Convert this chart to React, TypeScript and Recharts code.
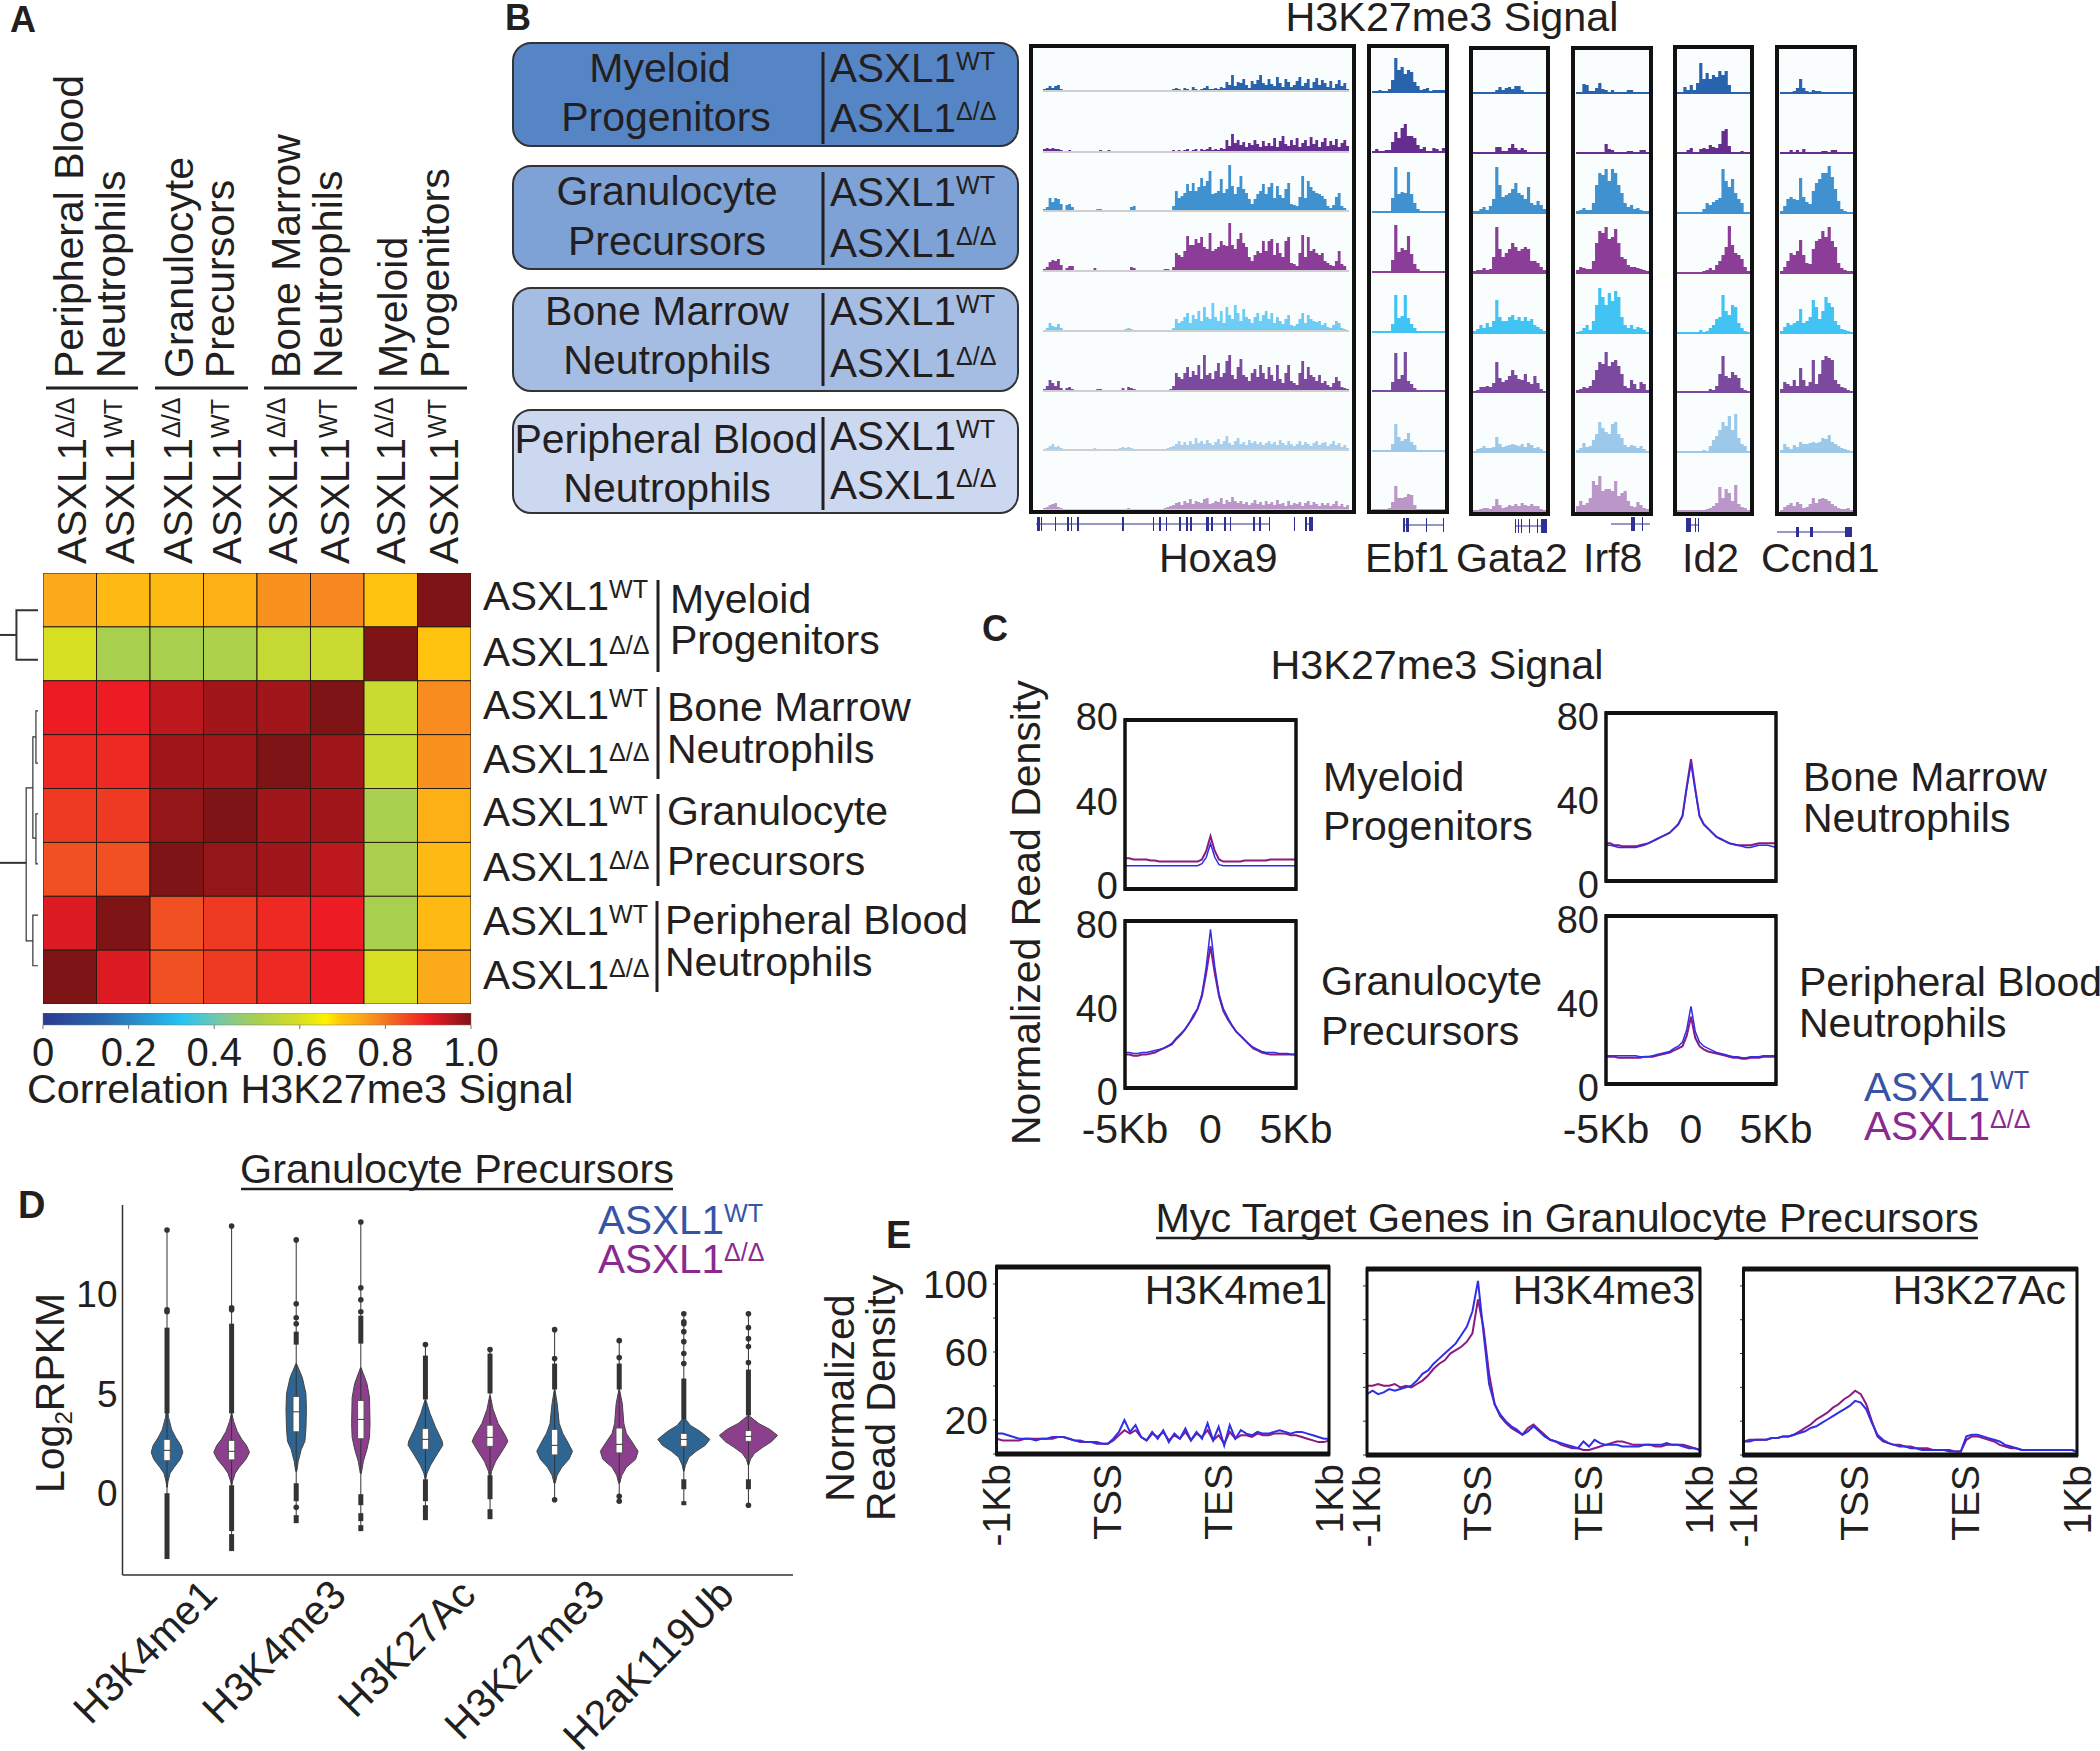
import {
  Area,
  AreaChart,
  Bar,
  BarChart,
  Cell,
  Line,
  LineChart,
  ReferenceLine,
  Scatter,
  ScatterChart,
  XAxis,
  YAxis,
} from "recharts";

const FONT = '"Liberation Sans", Arial, sans-serif';
const INK = "#231f20";
const LEGEND_BLUE = "#3953a4";
const LEGEND_PURPLE = "#8a2a8f";
const LINE_BLUE = "#2f2fe6";
const LINE_PURPLE = "#8a1a80";
const VIOLIN_BLUE = "#2f6592";
const VIOLIN_PURPLE = "#8c3f8d";

/* ---- panel A: correlation heatmap ---- */
const heatRows = [
  [0.74, 0.715, 0.715, 0.73, 0.77, 0.78, 0.7, 1],
  [0.6, 0.5, 0.5, 0.51, 0.56, 0.57, 1, 0.7],
  [0.9, 0.9, 0.945, 0.97, 0.97, 1, 0.57, 0.775],
  [0.885, 0.885, 0.97, 0.97, 1, 0.97, 0.57, 0.77],
  [0.865, 0.865, 0.98, 1, 0.97, 0.97, 0.5, 0.73],
  [0.84, 0.84, 1, 0.98, 0.97, 0.945, 0.505, 0.715],
  [0.915, 1, 0.84, 0.865, 0.885, 0.9, 0.5, 0.715],
  [1, 0.915, 0.84, 0.865, 0.885, 0.9, 0.6, 0.74],
];
const heatColumns = [0, 1, 2, 3, 4, 5, 6, 7];
const colorStops: [number, string][] = [
  [0, "#2b3990"],
  [0.15, "#2a6ab0"],
  [0.325, "#27c4f4"],
  [0.42, "#7ec8a0"],
  [0.5, "#a9cf4f"],
  [0.6, "#d7df23"],
  [0.66, "#fff200"],
  [0.7, "#ffc20e"],
  [0.74, "#fbaa19"],
  [0.78, "#f7881f"],
  [0.84, "#f15023"],
  [0.9, "#ed1c24"],
  [1, "#7f1416"],
];
const colorbarTicks = [0, 0.2, 0.4, 0.6, 0.8, 1];
const dendroBranches = [
  [[0, 1.15], [16, 1.15]],
  [[37, 0.69], [16, 0.69], [16, 1.61], [37, 1.61]],
  [[0, 5.38], [25.5, 5.38]],
  [[32, 3.99], [25.5, 3.99], [25.5, 6.83], [32, 6.83]],
  [[35, 3.04], [32, 3.04], [32, 4.92], [35, 4.92]],
  [[37, 2.56], [35, 2.56], [35, 3.53], [37, 3.53]],
  [[37, 4.47], [35, 4.47], [35, 5.4], [37, 5.4]],
  [[37, 6.35], [32, 6.35], [32, 7.29], [37, 7.29]],
];

/* ---- panel B: genome browser tracks, eight per gene ---- */
const trackColors = ["#2a63ad", "#662d91", "#3f91cf", "#8b3d97", "#41c4f4", "#7b4a9e", "#9cc9ea", "#bb96c8"];
const hoxa9Colors = ["#2a63ad", "#662d91", "#3f91cf", "#8b3d97", "#6dcdf5", "#7b4a9e", "#a9cfec", "#bb96c8"];
const hoxa9Tracks = [
  [2,3,5,3,5,6,2,0,0,0, 0,0,0,0,0,0,0,0,0,0, 0,0,0,0,0,0,0,0,0,0, 1,1,0,0,0,0,0,0,0,0, 0,0,0,0,0,0,2,3,2,1, 3,2,1,4,2,1,2,3,5,2, 2,3,2,4,3,9,6,16,5,9, 8,12,6,3,10,7,11,16,8,6, 12,7,5,14,8,4,12,9,4,6, 10,14,5,8,12,3,9,13,6,11, 8,4,10,3,7,11,5,8,2,0],
  [3,4,3,4,3,3,2,1,1,2, 1,1,0,0,0,1,1,0,0,1, 2,1,0,2,1,0,0,0,0,0, 1,1,0,0,0,0,0,0,0,0, 0,0,0,0,0,1,2,1,2,1, 2,3,1,2,3,1,3,2,3,5, 2,3,2,4,3,12,6,18,9,12, 7,10,5,9,7,12,8,5,11,6, 9,6,14,5,11,16,8,6,12,7, 14,5,9,12,6,15,8,12,5,10, 14,6,11,7,13,5,9,12,6,1],
  [2,4,13,9,13,12,7,0,6,7, 4,0,0,0,0,0,0,0,0,2, 2,0,0,0,0,0,0,0,0,0, 0,4,5,1,0,0,0,0,0,0, 0,0,0,0,0,0,5,20,13,15, 18,27,20,28,20,24,33,25,30,40, 17,18,20,32,18,22,46,25,17,24, 35,22,18,12,7,12,17,20,27,17, 24,28,13,25,16,13,22,28,7,6, 5,14,35,13,30,24,20,18,17,15, 12,5,3,6,14,18,5,3,1,0],
  [2,4,9,11,10,12,6,0,3,5, 5,1,0,0,0,0,0,0,3,1, 0,0,0,0,0,0,0,0,0,0, 0,4,3,0,0,0,0,0,0,0, 0,0,0,2,2,0,4,18,16,14, 20,35,26,26,32,28,34,24,22,38, 20,22,24,30,26,25,48,26,22,32, 38,28,24,14,10,16,20,18,30,20, 30,32,16,28,18,14,30,34,8,7, 5,18,36,14,34,20,22,18,16,18, 10,8,6,5,10,20,7,5,1,0],
  [1,3,8,5,4,7,3,1,0,1, 0,0,0,0,0,0,0,0,1,1, 1,0,0,0,1,0,0,1,1,2, 3,2,1,0,0,0,0,0,0,0, 0,0,0,0,1,1,3,12,8,10, 14,18,8,16,12,20,10,24,14,12, 28,14,10,20,8,24,16,12,26,18, 10,22,14,12,8,14,18,10,16,20, 12,18,8,14,10,7,12,16,6,5, 7,12,18,8,16,12,10,9,10,6, 8,4,3,6,10,8,3,2,1,0],
  [2,5,11,8,5,10,3,0,3,4, 2,0,0,0,0,0,0,0,1,2, 2,0,0,0,0,0,0,1,3,1, 4,3,2,0,0,0,0,0,0,0, 0,0,0,1,1,2,5,18,14,12, 18,24,14,20,16,26,12,36,16,18, 12,20,28,14,18,30,36,16,12,24, 32,16,14,10,18,22,14,26,18,12, 24,16,10,26,12,8,18,26,10,8, 6,18,30,12,24,16,14,10,16,8, 10,6,4,8,14,10,4,3,2,0],
  [1,2,4,6,3,4,2,1,1,0, 0,0,1,0,1,0,0,1,2,1, 1,0,1,0,0,1,0,2,3,2, 3,2,1,0,0,0,0,0,0,0, 0,0,0,1,2,3,4,6,9,5, 8,5,9,6,12,7,9,6,10,7, 5,8,11,6,9,14,7,5,9,12, 6,8,5,10,7,9,6,8,5,7, 9,6,8,5,10,7,5,9,6,4, 6,9,5,8,6,4,7,9,5,7, 8,4,6,9,5,7,3,5,2,0],
  [2,3,5,6,7,3,2,1,0,1, 0,0,0,0,0,0,0,0,0,0, 0,1,0,0,0,0,0,0,1,1, 2,1,0,0,0,0,0,0,1,1, 1,1,1,2,3,4,5,7,8,5, 9,7,11,6,9,8,7,11,12,6, 7,9,8,12,6,10,8,13,9,7, 9,6,8,5,7,10,6,8,5,9, 6,8,5,10,6,7,4,9,5,7, 6,8,4,7,9,5,8,6,4,7, 5,7,4,6,9,4,6,3,5,2],
];
const ebf1Tracks = [
  [0,0,2,1,1,3,12,34,22,25,18,22,20,10,6,2,3,4,1,2,2,2,2,2],
  [1,3,1,1,2,2,10,20,14,24,28,16,16,14,7,3,5,1,0,4,3,1,4,2],
  [0,0,0,0,0,0,14,45,18,20,19,40,18,9,3,0,0,0,0,0,0,0,0,0],
  [0,0,0,0,0,0,12,47,20,24,22,36,18,8,3,1,0,0,0,0,0,0,0,0],
  [0,0,0,0,0,0,8,37,14,16,37,14,8,4,1,0,0,0,0,0,0,0,0,0],
  [0,0,0,0,0,0,9,38,12,16,39,10,7,3,0,1,0,0,0,0,0,0,0,0],
  [0,0,1,0,0,0,7,27,14,10,12,18,9,6,1,1,1,0,1,0,0,1,0,0],
  [1,1,0,0,0,2,8,24,12,12,13,16,15,5,1,0,0,0,0,0,0,0,0,0],
];
const gata2Tracks = [
  [0,0,0,0,0,0,0,3,6,3,5,6,4,7,7,3,1,1,1,0,1,1,0,0],
  [1,1,0,1,0,1,1,6,6,2,2,5,9,5,3,5,3,1,0,0,1,1,1,1],
  [2,2,4,6,3,7,14,46,28,16,18,20,24,30,20,18,14,26,10,8,12,8,4,1],
  [2,3,3,5,3,4,16,46,24,16,20,24,30,26,22,24,26,24,12,12,10,6,3,1],
  [2,4,8,5,10,6,12,33,16,12,12,16,18,13,16,12,16,12,14,8,6,4,2,1],
  [1,2,5,5,6,5,9,30,14,10,12,16,22,17,13,12,18,10,8,16,9,3,1,0],
  [1,3,4,6,4,4,5,15,8,5,6,7,8,7,6,8,5,9,7,4,5,3,1,0],
  [0,0,2,3,3,2,5,12,6,3,4,6,5,7,5,8,6,5,7,5,5,2,0,0],
];
const irf8Tracks = [
  [0,0,9,8,2,2,5,10,4,3,0,3,1,0,0,0,3,3,0,0,0,0,0,2],
  [0,0,0,0,0,0,0,0,0,9,4,3,1,0,0,0,2,2,0,0,3,3,0,0],
  [2,3,5,3,3,10,28,40,38,44,32,44,40,28,20,10,6,8,4,5,3,2,2,3],
  [3,6,5,4,4,12,30,42,40,46,34,36,44,30,16,14,8,6,6,5,4,3,2,2],
  [1,2,5,8,3,12,28,45,36,28,40,32,42,36,16,8,5,8,4,6,5,3,1,5],
  [2,3,5,4,6,12,22,30,28,40,26,30,32,26,18,6,4,12,8,3,10,8,2,6],
  [2,4,9,5,6,12,18,30,24,20,18,28,30,18,14,7,5,7,6,4,6,3,1,3],
  [5,10,6,8,13,30,26,35,20,22,22,20,30,15,18,20,10,5,4,9,6,3,2,4],
];
const id2Tracks = [
  [0,1,6,3,8,3,10,30,14,20,14,18,16,22,18,22,8,1,1,1,1,1,0,1],
  [0,1,0,3,5,0,1,4,5,4,8,6,5,9,22,24,7,1,1,1,2,0,1,0],
  [0,0,0,0,0,0,0,1,4,10,8,11,13,15,44,32,26,34,20,14,10,1,0,0],
  [0,0,0,0,0,0,0,1,2,3,5,3,8,12,18,26,47,28,20,18,14,6,2,1],
  [0,0,0,0,0,1,0,3,1,2,5,8,14,16,38,22,18,28,26,10,5,2,1,3],
  [0,0,0,0,0,0,0,0,1,1,3,2,6,18,36,16,14,20,17,14,4,2,1,4],
  [0,0,0,0,0,0,0,1,2,1,6,12,16,22,30,26,36,22,38,14,8,6,1,0],
  [0,0,0,0,0,0,0,1,1,2,3,5,8,24,13,22,18,10,26,7,4,3,0,0],
];
const ccnd1Tracks = [
  [0,0,0,1,2,5,14,5,2,0,3,2,2,1,0,0,0,0,0,0,0,0,1,0],
  [0,0,1,3,1,3,1,4,1,1,1,0,1,2,2,1,3,3,0,0,0,0,0,0],
  [2,7,14,16,14,13,35,16,11,9,22,30,34,40,40,47,36,24,12,4,2,1,1,0],
  [2,6,12,20,18,22,33,18,10,9,24,32,34,42,36,46,32,26,10,5,3,2,2,2],
  [2,6,10,8,10,12,24,10,12,16,33,26,14,22,36,30,26,12,8,4,3,2,1,0],
  [3,10,8,6,12,6,24,12,6,10,32,8,18,32,36,34,32,12,8,5,4,2,1,1],
  [2,8,5,3,7,5,10,8,8,9,10,9,10,14,13,17,10,8,6,4,3,2,1,0],
  [1,4,6,8,5,9,7,3,4,7,13,8,12,13,12,10,7,5,3,2,2,3,1,0],
];

/* ---- panel C: read density around peaks, 41 bins from -5Kb to 5Kb ---- */
const profileMpWt = [11,11,11,11,11,11,11,11,11,11,11,11,11,11,11,11,11,11,12,15,21.5,15,11.5,11,11,11,11,11,11,11,11,11,11,11,11,11,11,11,11,11,11];
const profileMpKo = [14.5,14.5,14,14,14,14,13.5,13.5,13,13,13,13,13,13,13,13,13,13,14,18,25,18,14,13,13,13,13,13,13.5,13.5,13.5,13.5,13.5,13.5,14,14,14,14,14,14,14];
const profileBmWt = [17,17,16.5,16,16,16,16,16,16.5,17,18,19,20,21,22,23,25,27,31,44,56,43,31,27,25,23,21,20,19,18,17.5,17,16.5,16,16,16.5,17,17,17,16.5,16];
const profileBmKo = [18,18,17,17,16.5,16.5,16.5,16.5,17,17.5,18,19,20,21,22,23,25,27,31,45,58,44,31,27,25,23,21,20,19,18,17.5,17,17,17,17,17.5,18,18,18,18,18];
const profileGpWt = [17,17,16.5,16.5,17,17,17.5,18,18.5,19,20,21.5,24,26,28,31,35,38,45,58,76,58,45,38,34,30,27,25,23,21,19.5,18.5,17.5,17,17,17,16.5,16.5,16.5,16,16];
const profileGpKo = [16,16,15.5,15.5,16,16,16.5,17,18,19,20,21,23.5,25.5,28,31,34,38,44,55,68,55,44,37,33,30,27,25,23,21,19,18,17,16.5,16,16,16,16,16,16,16];
const profilePbWt = [13.5,13.5,13.5,13.5,13.5,13.5,13.5,13.5,13,13,13,13.5,14,14.5,15,15.5,17,18,20,26,37,25,20,18,17,16,15,14.5,14,13.5,13,13,12.5,12.5,13,13,13,13.5,13.5,13.5,13.5];
const profilePbKo = [13,13,13,12.5,12.5,12.5,12.5,12.5,12.5,13,13,13,13.5,14,14.5,15,16,17,18,23,32,22,18,16.5,15.5,15,14.5,14,13.5,13,12.5,12.5,12,12,12.5,12.5,12.5,13,13,13,13];
const profileTicks = [0, 20, 40];
const profileTickLabels = ["-5Kb", "0", "5Kb"];

/* ---- panel D: violins, log2 RPKM ---- */
const violinGroups = ["H3K4me1", "H3K4me3", "H3K27Ac", "H3K27me3", "H2aK119Ub"];
const violinGroupTicks = [0.5, 2.5, 4.5, 6.5, 8.5];
// [log2 RPKM, half width of the density]
const violinProfiles = [
  [[4.3,0.5],[3.8,3],[3.2,9],[2.8,17],[2.4,27],[2.05,31],[1.7,26],[1.3,14],[1,6],[0.6,2],[0.3,0.5]],
  [[4,0.5],[3.6,4],[3.1,11],[2.7,20],[2.4,29],[2.05,35],[1.7,28],[1.3,15],[1,7],[0.6,2],[0.4,0.5]],
  [[6.5,0.5],[5.8,12],[5,19],[4.2,20],[3.2,19],[2.6,17],[2.2,10],[1.6,4],[1.1,1]],
  [[6.3,0.5],[5.5,12],[4.8,17],[3.5,18],[2.8,17],[2.2,12],[1.6,5],[1,1]],
  [[4.7,0.5],[4,9],[3.3,20],[2.6,33],[2.4,34],[2,24],[1.4,10],[1,3],[0.7,0.5]],
  [[4.9,0.5],[4.2,6],[3.5,16],[2.9,30],[2.6,35],[2.2,26],[1.6,11],[1.1,3],[0.7,0.5]],
  [[5.2,0.5],[4.5,5],[3.5,9],[3,16],[2.5,27],[2.1,35],[1.7,28],[1.3,14],[0.9,5],[0.5,1]],
  [[5.2,0.5],[4.5,6],[3.5,9],[3,14],[2.5,27],[2.1,37],[1.7,32],[1.3,14],[0.9,5],[0.5,1]],
  [[3.8,0.5],[3.4,13],[3.1,32],[2.7,51],[2.4,42],[2.1,24],[1.8,10],[1.4,3],[1.1,0.5]],
  [[3.9,0.5],[3.5,20],[3.2,42],[2.9,57],[2.6,46],[2.3,28],[2,12],[1.7,4],[1.4,0.5]],
];
// [q1, median, q3]
const violinBoxes = [
  [1.63, 2.15, 2.7],
  [1.67, 2.1, 2.65],
  [3.08, 4.08, 4.85],
  [2.73, 3.7, 4.65],
  [2.2, 2.7, 3.24],
  [2.35, 2.8, 3.41],
  [1.92, 2.4, 3.2],
  [2.02, 2.45, 3.27],
  [2.35, 2.7, 3],
  [2.6, 2.85, 3.14],
];
// [min, max] of the thin whisker
const violinWhiskers = [
  [-3.3, 13.2], [-2.9, 13.4], [-1.5, 12.7], [-1.9, 13.6], [-1.35, 7.45],
  [-1.3, 7.2], [-0.33, 8.2], [-0.4, 7.65], [-0.6, 9], [-0.6, 9],
];
// runs of overlapping outliers, drawn as a thick stroke
const violinOutlierRuns = [
  [[4, 8.3], [-3.3, 0]],
  [[4, 8.5], [-1.9, 0.4], [-2.9, -2.05]],
  [[7.45, 8.1], [-0.4, 0.5], [-1.5, -1.1]],
  [[7.5, 8.9], [-0.6, -0.05], [-1.4, -1], [-1.9, -1.6]],
  [[4.7, 6.9], [-0.4, 0.7], [-1.35, -0.6]],
  [[5, 7], [-0.3, 0.9], [-1.3, -0.8]],
  [[5.2, 6.5]],
  [[5.2, 6.5]],
  [[3.7, 5.75], [0.2, 0.7], [-0.6, -0.4]],
  [[3.9, 6.2], [0.2, 0.7]],
];
const violinOutlierDots = [
  [13.2, 9.2, 9.1],
  [13.4, 9.3, 9.2],
  [12.7, 9.5, 8.8, 8.5, -0.7],
  [13.6, 10.3, 9.7, 9.1],
  [7.45],
  [7.2],
  [8.2, 6.75, -0.33],
  [7.65, 6.8, -0.15, -0.4],
  [9, 8.6, 8.5, 8.1, 7.6, 7, 6.5],
  [9, 8.3, 7.75, 7.35, 6.55, -0.6],
];

/* ---- panel E: metagene profiles, 61 bins from -1Kb to 1Kb past the gene body ---- */
const metaH3k4me1Wt = [12,12,11,10,9,9,9,8,9,9,10,10,10,9,8,8,7,7,7,6,6,9,13,20,13,17,10,8,13,9,14,7,12,9,15,8,13,9,18,8,16,5,17,9,14,12,11,13,12,12,13,14,13,12,13,13,12,11,10,9,9];
const metaH3k4me1Ko = [9,8,8,8,8,9,9,9,9,9,9,10,10,9,8,7,7,7,6,6,6,8,11,14,12,14,10,8,12,10,13,8,11,9,13,8,12,10,14,8,11,6,13,9,11,11,10,12,11,11,12,12,12,11,11,10,9,8,7,7,8];
const metaH3k4me3Wt = [36,38,36,37,39,38,39,40,41,44,48,50,54,57,60,63,66,71,76,85,103,72,42,30,24,20,17,15,12,14,17,14,11,9,8,7,6,5,4,8,5,9,7,6,6,6,5,5,5,5,6,6,6,6,7,6,6,5,4,4,3];
const metaH3k4me3Ko = [41,41,42,41,41,42,40,41,40,42,44,47,51,54,56,60,62,64,67,72,92,75,48,30,23,19,16,14,12,16,18,15,12,9,8,6,5,4,4,3,3,4,5,6,7,8,8,7,6,6,6,6,5,5,6,6,6,6,5,4,3];
const metaH3k27acWt = [8,8,9,9,9,10,10,11,11,12,13,14,16,17,19,21,23,25,27,29,32,31,27,19,12,9,7,6,5,5,4,4,3,3,3,3,3,2,2,2,11,12,12,11,10,9,8,6,5,4,3,3,3,3,3,3,3,3,3,3,2];
const metaH3k27acKo = [8,9,9,9,9,10,10,11,11,12,14,16,18,21,23,25,28,30,33,35,38,36,30,20,11,8,7,6,6,5,5,4,4,4,3,3,3,3,2,2,9,11,11,10,9,8,6,5,4,4,3,3,3,3,3,3,3,3,3,3,2];
const metaTicks = [0, 20, 40, 60];
const metaTickLabels = ["-1Kb", "TSS", "TES", "1Kb"];
const metaYTicks = [0, 20, 40, 60, 80, 100];
const metaYLabels = [20, 60, 100];

function mixHex(a: string, b: string, t: number): string {
  const chan = (h: string, i: number) => parseInt(h.slice(1 + i * 2, 3 + i * 2), 16);
  const out = [0, 1, 2].map((i) => Math.round(chan(a, i) + (chan(b, i) - chan(a, i)) * t));
  return `rgb(${out.join(",")})`;
}

function heatColor(v: number): string {
  for (let i = 1; i < colorStops.length; i++) {
    const [v0, c0] = colorStops[i - 1];
    const [v1, c1] = colorStops[i];
    if (v <= v1) return mixHex(c0, c1, (v - v0) / (v1 - v0));
  }
  return colorStops[colorStops.length - 1][1];
}

function Box({ x, y, w, h, children }: any) {
  return <div style={{ position: "absolute", left: x, top: y, width: w, height: h }}>{children}</div>;
}

function T({ x, y, s = 41, a = "start", c = INK, b = false, r = false, children }: any) {
  return (
    <text
      x={x}
      y={y}
      fontSize={s}
      textAnchor={a}
      fill={c}
      fontWeight={b ? 700 : 400}
      transform={r ? `rotate(-90 ${x} ${y})` : undefined}
    >
      {children}
    </text>
  );
}

/** ASXL1 with its genotype as a superscript. */
function Geno({ x, y, ko = false, s = 40.5, c = INK, r = false }: any) {
  return (
    <T x={x} y={y} s={s} c={c} r={r}>
      ASXL1
      <tspan fontSize={s * 0.62} dy={-s * 0.3}>
        {ko ? "Δ/Δ" : "WT"}
      </tspan>
    </T>
  );
}

function Frame({ x, y, w, h, thick = 5, thin = 3 }: any) {
  return (
    <g stroke="#111" fill="none">
      <rect x={x} y={y} width={w} height={h} strokeWidth={thin} />
      <line x1={x - 1} x2={x + w + 1} y1={y} y2={y} strokeWidth={thick} />
      <line x1={x - 1} x2={x + w + 1} y1={y + h} y2={y + h} strokeWidth={thick} />
    </g>
  );
}

/* exons are [x, width], the line runs from x0 to x1 */
function GeneModel({ y, spans, exons, h = 7 }: any) {
  return (
    <g fill="#2e3192" stroke="#2e3192">
      {spans.map(([x0, x1]: number[], i: number) => (
        <line key={i} x1={x0} x2={x1} y1={y} y2={y} strokeWidth={1} />
      ))}
      {exons.map(([x, w]: number[], i: number) => (
        <rect key={i} x={x} y={y - h} width={w} height={h * 2} stroke="none" />
      ))}
    </g>
  );
}

function Track({ x, baseline, w, values, color, lineColor }: any) {
  const data = values.map((v: number, i: number) => ({ i, v }));
  return (
    <Box x={x} y={baseline - 50} w={w} h={51}>
      <AreaChart width={w} height={51} data={data} margin={{ top: 0, right: 0, bottom: 1, left: 0 }}>
        <XAxis dataKey="i" hide />
        <YAxis hide domain={[0, 50]} />
        <ReferenceLine y={0} stroke={lineColor} strokeWidth={2} />
        <Area
          dataKey="v"
          type="stepAfter"
          stroke="none"
          fill={color}
          fillOpacity={1}
          dot={false}
          isAnimationActive={false}
        />
      </AreaChart>
    </Box>
  );
}

function GeneTracks({ x, w, baselines, tracks, colors, grey = false }: any) {
  return tracks.map((values: number[], i: number) => (
    <Track
      key={i}
      x={x}
      w={w}
      baseline={baselines[i]}
      values={values}
      color={colors[i]}
      lineColor={grey ? "#cfcfcf" : colors[i]}
    />
  ));
}

function ProfileChart({ x, y, w, h, wt, ko, labels = false, tickMargin = 27, labelDy = 0 }: any) {
  const data = wt.map((v: number, i: number) => ({ i, wt: v, ko: ko[i] }));
  const left = 100;
  const top = 24;
  const bottom = 84;
  return (
    <Box x={x - left} y={y - top} w={w + left + 50} h={h + top + bottom}>
      <LineChart
        width={w + left + 50}
        height={h + top + bottom}
        data={data}
        margin={{ top, right: 50, bottom: 0, left: 0 }}
      >
        <XAxis
          dataKey="i"
          type="number"
          domain={[0, 40]}
          ticks={profileTicks}
          interval={0}
          height={bottom}
          axisLine={false}
          tickLine={false}
          tickSize={0}
          tickMargin={tickMargin}
          tick={labels ? { fontSize: 41, fill: INK } : false}
          tickFormatter={(v: number) => profileTickLabels[profileTicks.indexOf(v)]}
        />
        <YAxis
          type="number"
          domain={[0, 80]}
          ticks={[0, 40, 80]}
          interval={0}
          width={left}
          axisLine={false}
          tickLine={false}
          tickSize={0}
          tickMargin={7}
          tick={{ fontSize: 38, fill: INK, dy: labelDy }}
        />
        <Line dataKey="ko" stroke={LINE_PURPLE} strokeWidth={2} dot={false} isAnimationActive={false} />
        <Line dataKey="wt" stroke={LINE_BLUE} strokeWidth={1.5} dot={false} isAnimationActive={false} />
      </LineChart>
    </Box>
  );
}

function MetaTick({ x, y, payload }: any) {
  return (
    <text
      x={x + 13}
      y={y}
      fontSize={39}
      fill={INK}
      textAnchor="end"
      transform={`rotate(-90 ${x + 13} ${y})`}
    >
      {metaTickLabels[metaTicks.indexOf(payload.value)]}
    </text>
  );
}

function MetaChart({ x, y, w, h, wt, ko, yLabels = false }: any) {
  const data = wt.map((v: number, i: number) => ({ i, wt: v, ko: ko[i] }));
  const left = 90;
  const top = 10;
  const bottom = 110;
  const right = 20;
  return (
    <Box x={x - left} y={y - top} w={w + left + right} h={h + top + bottom}>
      <LineChart
        width={w + left + right}
        height={h + top + bottom}
        data={data}
        margin={{ top, right, bottom: 0, left: 0 }}
      >
        <XAxis
          dataKey="i"
          type="number"
          domain={[0, 60]}
          ticks={metaTicks}
          interval={0}
          height={bottom}
          axisLine={false}
          tickLine={false}
          tickSize={0}
          tickMargin={10}
          tick={MetaTick}
        />
        <YAxis
          type="number"
          domain={[0, 110]}
          ticks={metaYTicks}
          interval={0}
          width={left}
          axisLine={false}
          tickSize={4}
          tickMargin={5}
          tickLine={{ stroke: "#333" }}
          tick={{ fontSize: 39, fill: INK }}
          tickFormatter={(v: number) => (yLabels && metaYLabels.includes(v) ? String(v) : "")}
        />
        <Line dataKey="ko" stroke={LINE_PURPLE} strokeWidth={2} dot={false} isAnimationActive={false} />
        <Line dataKey="wt" stroke={LINE_BLUE} strokeWidth={2} dot={false} isAnimationActive={false} />
      </LineChart>
    </Box>
  );
}

function Heatmap() {
  const data = heatRows.map((row, r) => {
    const item: Record<string, number> = { r };
    heatColumns.forEach((c) => (item[`c${c}`] = 1));
    return item;
  });
  return (
    <BarChart
      width={428}
      height={431}
      data={data}
      layout="vertical"
      barCategoryGap={0}
      barGap={0}
      margin={{ top: 0, right: 0, bottom: 0, left: 0 }}
    >
      <XAxis type="number" domain={[0, 8]} hide />
      <YAxis type="category" dataKey="r" hide />
      {heatColumns.map((c) => (
        <Bar key={c} dataKey={`c${c}`} stackId="heat" isAnimationActive={false}>
          {heatRows.map((row, r) => (
            <Cell key={r} fill={heatColor(row[c])} stroke="#2a1a10" strokeWidth={1} />
          ))}
        </Bar>
      ))}
    </BarChart>
  );
}

function Colorbar() {
  return (
    <BarChart
      width={530}
      height={72}
      data={[{ name: "corr", v: 1 }]}
      layout="vertical"
      barCategoryGap={0}
      margin={{ top: 0, right: 59, bottom: 0, left: 43 }}
    >
      <defs>
        <linearGradient id="corrGradient" x1="0" x2="1" y1="0" y2="0">
          {colorStops.map(([v, c]) => (
            <stop key={v} offset={v} stopColor={c} />
          ))}
        </linearGradient>
      </defs>
      <XAxis
        type="number"
        domain={[0, 1]}
        ticks={colorbarTicks}
        interval={0}
        height={60}
        axisLine={false}
        tickSize={4}
        tickMargin={9}
        tickLine={{ stroke: "#777" }}
        tick={{ fontSize: 40, fill: INK }}
        tickFormatter={(v: number) => (v === 0 ? "0" : v.toFixed(1))}
      />
      <YAxis type="category" dataKey="name" hide />
      <Bar dataKey="v" fill="url(#corrGradient)" stroke="#777" strokeWidth={0.5} isAnimationActive={false} />
    </BarChart>
  );
}

function Dendrogram() {
  return (
    <ScatterChart width={38} height={431} margin={{ top: 0, right: 0, bottom: 0, left: 0 }}>
      <XAxis type="number" dataKey="x" domain={[0, 37]} hide />
      <YAxis type="number" dataKey="y" domain={[0, 8]} reversed hide />
      {dendroBranches.map((pts, i) => (
        <Scatter
          key={i}
          data={pts.map(([x, y]) => ({ x, y }))}
          shape={NoDot}
          line={{ stroke: "#333", strokeWidth: i < 3 ? 2 : 1.2 }}
          isAnimationActive={false}
        />
      ))}
    </ScatterChart>
  );
}

function NoDot() {
  return null;
}

function OutlierDot({ cx, cy }: any) {
  return <circle cx={cx} cy={cy} r={2.8} fill="#333" />;
}

function ViolinTick({ x, y, payload }: any) {
  const label = violinGroups[violinGroupTicks.indexOf(payload.value)];
  const px = x + 20;
  const py = y + 14;
  return (
    <text x={px} y={py} fontSize={41} fill={INK} textAnchor="end" transform={`rotate(-45 ${px} ${py})`}>
      {label}
    </text>
  );
}

function Violins() {
  const SCALE = 0.0079;
  return (
    <ScatterChart width={813} height={556} margin={{ top: 10, right: 20, bottom: 0, left: 0 }}>
      <XAxis
        type="number"
        dataKey="x"
        domain={[-0.689, 9.69]}
        ticks={violinGroupTicks}
        interval={0}
        height={176}
        tickLine={false}
        axisLine={{ stroke: "#333", strokeWidth: 1.5 }}
        tick={ViolinTick}
      />
      <YAxis
        type="number"
        dataKey="y"
        domain={[-4.1, 14.45]}
        ticks={[0, 5, 10]}
        interval={0}
        width={122.5}
        tickLine={false}
        tickSize={0}
        tickMargin={5}
        axisLine={{ stroke: "#333", strokeWidth: 1.5 }}
        tick={{ fontSize: 37, fill: INK }}
      />
      {violinProfiles.map((profile, i) => (
        <Scatter
          key={`v${i}`}
          data={[
            ...profile.map(([y, w]) => ({ x: i + w * SCALE, y })),
            ...[...profile].reverse().map(([y, w]) => ({ x: i - w * SCALE, y })),
          ]}
          shape={NoDot}
          line={{ stroke: "#444", strokeWidth: 1, fill: i % 2 ? VIOLIN_PURPLE : VIOLIN_BLUE }}
          isAnimationActive={false}
        />
      ))}
      {violinWhiskers.map(([lo, hi], i) => (
        <Scatter
          key={`w${i}`}
          data={[{ x: i, y: lo }, { x: i, y: hi }]}
          shape={NoDot}
          line={{ stroke: "#333", strokeWidth: 1 }}
          isAnimationActive={false}
        />
      ))}
      {violinOutlierRuns.map((runs, i) =>
        runs.map(([lo, hi], j) => (
          <Scatter
            key={`r${i}-${j}`}
            data={[{ x: i, y: lo }, { x: i, y: hi }]}
            shape={NoDot}
            line={{ stroke: "#333", strokeWidth: 5 }}
            isAnimationActive={false}
          />
        )),
      )}
      {violinOutlierDots.map((dots, i) => (
        <Scatter
          key={`d${i}`}
          data={dots.map((y) => ({ x: i, y }))}
          shape={OutlierDot}
          isAnimationActive={false}
        />
      ))}
      {violinBoxes.map(([q1, , q3], i) => (
        <Scatter
          key={`b${i}`}
          data={[
            { x: i - 0.05, y: q1 },
            { x: i - 0.05, y: q3 },
            { x: i + 0.05, y: q3 },
            { x: i + 0.05, y: q1 },
            { x: i - 0.05, y: q1 },
          ]}
          shape={NoDot}
          line={{ stroke: "#555", strokeWidth: 1, fill: "#fff" }}
          isAnimationActive={false}
        />
      ))}
      {violinBoxes.map(([, med], i) => (
        <Scatter
          key={`m${i}`}
          data={[{ x: i - 0.05, y: med }, { x: i + 0.05, y: med }]}
          shape={NoDot}
          line={{ stroke: "#333", strokeWidth: 1 }}
          isAnimationActive={false}
        />
      ))}
    </ScatterChart>
  );
}

const COLUMN_GENO = [86, 134, 192, 241, 297, 349, 405, 458];
const ROW_GENO = [596, 652, 705, 759, 812, 867, 921, 975];
const TRACK_BASELINES = [92, 152, 212, 272, 332, 391, 451, 510];
const HOXA9_BASELINES = [91, 152, 211, 271, 331, 391, 450, 510];
const GENE_FRAMES = [
  { x: 1031, y: 46, w: 323, h: 466 },
  { x: 1369, y: 46, w: 78, h: 466 },
  { x: 1471, y: 48, w: 77, h: 466 },
  { x: 1573, y: 48, w: 78, h: 466 },
  { x: 1675, y: 47, w: 77, h: 467 },
  { x: 1777, y: 47, w: 78, h: 467 },
];

export default function App() {
  return (
    <div
      style={{
        position: "absolute",
        left: 0,
        top: 0,
        width: 2100,
        height: 1751,
        background: "#fff",
        fontFamily: FONT,
        overflow: "hidden",
      }}
    >
      <svg width={2100} height={1751} style={{ position: "absolute", left: 0, top: 0 }}>
        {GENE_FRAMES.map((f, i) => (
          <rect key={i} x={f.x} y={f.y} width={f.w} height={f.h} fill="#fafdfd" />
        ))}
      </svg>

      <Box x={43} y={573} w={428} h={431}>
        <Heatmap />
      </Box>
      <Box x={0} y={1013} w={530} h={72}>
        <Colorbar />
      </Box>
      <Box x={0} y={573} w={38} h={431}>
        <Dendrogram />
      </Box>

      <GeneTracks x={1043} w={306} baselines={HOXA9_BASELINES} tracks={hoxa9Tracks} colors={hoxa9Colors} grey />
      <GeneTracks x={1372} w={73} baselines={TRACK_BASELINES} tracks={ebf1Tracks} colors={trackColors} />
      <GeneTracks x={1473} w={73} baselines={TRACK_BASELINES.map((b) => b + 1)} tracks={gata2Tracks} colors={trackColors} />
      <GeneTracks x={1576} w={73} baselines={TRACK_BASELINES.map((b) => b + 1)} tracks={irf8Tracks} colors={trackColors} />
      <GeneTracks x={1677} w={73} baselines={TRACK_BASELINES.map((b) => b + 1)} tracks={id2Tracks} colors={trackColors} />
      <GeneTracks x={1780} w={73} baselines={TRACK_BASELINES.map((b) => b + 1)} tracks={ccnd1Tracks} colors={trackColors} />

      <ProfileChart x={1125} y={720} w={171} h={169} wt={profileMpWt} ko={profileMpKo} labelDy={-3} />
      <ProfileChart x={1606} y={713} w={170} h={168} wt={profileBmWt} ko={profileBmKo} labelDy={4} />
      <ProfileChart x={1125} y={921} w={171} h={167} wt={profileGpWt} ko={profileGpKo} labels tickMargin={26} labelDy={4} />
      <ProfileChart x={1606} y={916} w={170} h={168} wt={profilePbWt} ko={profilePbKo} labels tickMargin={30} labelDy={4} />

      <Box x={0} y={1195} w={813} h={556}>
        <Violins />
      </Box>

      <MetaChart x={996.5} y={1267} w={332.5} h={187} wt={metaH3k4me1Wt} ko={metaH3k4me1Ko} yLabels />
      <MetaChart x={1367} y={1269} w={333} h={186} wt={metaH3k4me3Wt} ko={metaH3k4me3Ko} />
      <MetaChart x={1743.5} y={1269} w={333.5} h={186} wt={metaH3k27acWt} ko={metaH3k27acKo} />

      <svg
        width={2100}
        height={1751}
        style={{ position: "absolute", left: 0, top: 0, pointerEvents: "none", fontFamily: FONT }}
      >
        {/* panel letters */}
        <T x={10} y={32} s={36} b>A</T>
        <T x={505} y={30} s={36} b>B</T>
        <T x={982} y={641} s={36} b>C</T>
        <T x={18} y={1218} s={38} b>D</T>
        <T x={886} y={1248} s={38} b>E</T>

        {/* panel A column labels */}
        {COLUMN_GENO.map((x, i) => (
          <Geno key={x} x={x} y={564} r ko={i % 2 === 0} />
        ))}
        <g stroke={INK} strokeWidth={3}>
          <line x1={46} x2={138} y1={388} y2={388} />
          <line x1={155} x2={248} y1={388} y2={388} />
          <line x1={264} x2={357} y1={388} y2={388} />
          <line x1={374} x2={467} y1={388} y2={388} />
        </g>
        <T x={83} y={378} r>Peripheral Blood</T>
        <T x={125} y={378} r>Neutrophils</T>
        <T x={193} y={378} r>Granulocyte</T>
        <T x={234} y={378} r>Precursors</T>
        <T x={300} y={378} r>Bone Marrow</T>
        <T x={342} y={378} r>Neutrophils</T>
        <T x={407} y={378} r>Myeloid</T>
        <T x={449} y={378} r>Progenitors</T>

        {/* panel A row labels */}
        {ROW_GENO.map((cy, i) => (
          <Geno key={cy} x={483} y={cy + 14} ko={i % 2 === 1} />
        ))}
        <g stroke={INK} strokeWidth={3}>
          <line x1={658} x2={658} y1={580} y2={672} />
          <line x1={658} x2={658} y1={687} y2={779} />
          <line x1={658} x2={658} y1={794} y2={886} />
          <line x1={657} x2={657} y1={901} y2={992} />
        </g>
        <T x={670} y={613}>Myeloid</T>
        <T x={670} y={654}>Progenitors</T>
        <T x={667} y={721}>Bone Marrow</T>
        <T x={667} y={763}>Neutrophils</T>
        <T x={667} y={825}>Granulocyte</T>
        <T x={667} y={875}>Precursors</T>
        <T x={665} y={934}>Peripheral Blood</T>
        <T x={665} y={976}>Neutrophils</T>
        <T x={27} y={1103} s={41.3}>Correlation H3K27me3 Signal</T>

        {/* panel B legend boxes */}
        <T x={1452} y={31} a="middle" s={41.3}>H3K27me3 Signal</T>
        {[
          { y: 43, fill: "#5585c5" },
          { y: 166, fill: "#7ea1d6" },
          { y: 288, fill: "#a5bde3" },
          { y: 410, fill: "#ccd7f0" },
        ].map((b) => (
          <rect key={b.y} x={513} y={b.y} width={505} height={103} rx={18} fill={b.fill} stroke="#333" strokeWidth={2} />
        ))}
        <g stroke={INK} strokeWidth={3}>
          <line x1={823} x2={823} y1={52} y2={144} />
          <line x1={823} x2={823} y1={172} y2={265} />
          <line x1={823} x2={823} y1={293} y2={386} />
          <line x1={823} x2={823} y1={417} y2={510} />
        </g>
        <T x={660} y={82} a="middle">Myeloid</T>
        <T x={666} y={131} a="middle">Progenitors</T>
        <T x={667} y={205} a="middle">Granulocyte</T>
        <T x={667} y={255} a="middle">Precursors</T>
        <T x={667} y={325} a="middle">Bone Marrow</T>
        <T x={667} y={374} a="middle">Neutrophils</T>
        <T x={666} y={453} a="middle">Peripheral Blood</T>
        <T x={667} y={502} a="middle">Neutrophils</T>
        <Geno x={830} y={82} />
        <Geno x={830} y={132} ko />
        <Geno x={830} y={206} />
        <Geno x={830} y={257} ko />
        <Geno x={830} y={325} />
        <Geno x={830} y={377} ko />
        <Geno x={830} y={450} />
        <Geno x={830} y={499} ko />

        {/* panel B frames, gene models and gene names */}
        {GENE_FRAMES.map((f, i) => (
          <Frame key={i} {...f} thick={4} thin={4} />
        ))}
        <GeneModel
          y={524}
          spans={[[1036, 1269], [1305, 1313]]}
          exons={[[1037,3],[1041,1],[1055,1],[1067,2],[1071,1],[1077,2],[1122,2],[1153,1],[1159,2],[1166,1],[1179,2],[1186,2],[1190,2],[1206,3],[1211,2],[1224,2],[1230,1],[1253,2],[1259,2],[1269,1],[1294,1],[1305,2],[1309,4]]}
        />
        <GeneModel y={525} spans={[[1403, 1444]]} exons={[[1403,2],[1406,3],[1426,1],[1443,1]]} />
        <GeneModel y={526} spans={[[1515, 1547]]} exons={[[1515,1],[1518,1],[1521,1],[1529,1],[1537,1],[1541,6]]} />
        <GeneModel y={524} spans={[[1611, 1650]]} exons={[[1631,4],[1642,1]]} />
        <GeneModel y={525} spans={[[1686, 1699]]} exons={[[1686,5],[1695,1],[1698,1]]} />
        <GeneModel y={532} spans={[[1777, 1852]]} exons={[[1796,3],[1810,3],[1845,7]]} h={5} />
        <T x={1159} y={572}>Hoxa9</T>
        <T x={1365} y={572}>Ebf1</T>
        <T x={1456} y={572}>Gata2</T>
        <T x={1583} y={572}>Irf8</T>
        <T x={1682} y={572}>Id2</T>
        <T x={1761} y={572}>Ccnd1</T>

        {/* panel C */}
        <T x={1437} y={679} a="middle" s={41.3}>H3K27me3 Signal</T>
        <T x={1040} y={1145} s={41} r>Normalized Read Density</T>
        <Frame x={1125} y={720} w={171} h={169} thick={4} thin={3.5} />
        <Frame x={1606} y={713} w={170} h={168} thick={4} thin={3.5} />
        <Frame x={1125} y={921} w={171} h={167} thick={4} thin={3.5} />
        <Frame x={1606} y={916} w={170} h={168} thick={4} thin={3.5} />
        <T x={1323} y={791}>Myeloid</T>
        <T x={1323} y={840}>Progenitors</T>
        <T x={1803} y={791}>Bone Marrow</T>
        <T x={1803} y={832}>Neutrophils</T>
        <T x={1321} y={995}>Granulocyte</T>
        <T x={1321} y={1045}>Precursors</T>
        <T x={1799} y={996}>Peripheral Blood</T>
        <T x={1799} y={1037}>Neutrophils</T>
        <Geno x={1864} y={1101} c={LEGEND_BLUE} />
        <Geno x={1864} y={1140} c={LEGEND_PURPLE} ko />

        {/* panel D */}
        <T x={457} y={1183} a="middle" s={41.3}>Granulocyte Precursors</T>
        <line x1={241} x2={673} y1={1189} y2={1189} stroke={INK} strokeWidth={2.5} />
        <T x={64} y={1493} s={41} r>
          Log
          <tspan fontSize={24} dy={8}>2</tspan>
          <tspan dy={-8}>RPKM</tspan>
        </T>
        <Geno x={598} y={1234} c={LEGEND_BLUE} />
        <Geno x={598} y={1273} c={LEGEND_PURPLE} ko />

        {/* panel E */}
        <T x={1567} y={1232} a="middle" s={41.3}>Myc Target Genes in Granulocyte Precursors</T>
        <line x1={1156} x2={1978} y1={1238} y2={1238} stroke={INK} strokeWidth={2.5} />
        <T x={854} y={1398} a="middle" s={41} r>Normalized</T>
        <T x={895} y={1398} a="middle" s={41} r>Read Density</T>
        <Frame x={996.5} y={1267} w={332.5} h={187} />
        <Frame x={1367} y={1269} w={333} h={186} />
        <Frame x={1743.5} y={1269} w={333.5} h={186} />
        <T x={1327} y={1304} a="end" s={41}>H3K4me1</T>
        <T x={1695} y={1304} a="end" s={41}>H3K4me3</T>
        <T x={2066} y={1304} a="end" s={41}>H3K27Ac</T>
      </svg>
    </div>
  );
}
